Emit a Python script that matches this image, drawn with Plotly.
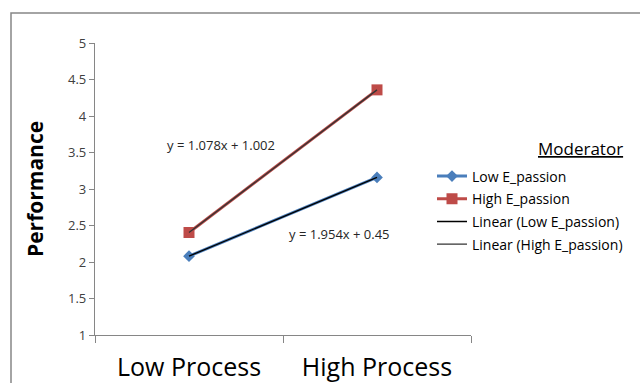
import plotly.graph_objects as go

categories = ["Low Process", "High Process"]
x_pos = [1, 2]
low_passion = [2.08, 3.158]
high_passion = [2.404, 4.358]
series_names = ["Low E_passion", "High E_passion",
                "Linear (Low E_passion)", "Linear (High E_passion)"]
equations = ["y = 1.078x + 1.002", "y = 1.954x + 0.45"]
eq_pos = [(1.17, 3.6), (1.8, 2.39)]
y_ticks = [1, 1.5, 2, 2.5, 3, 3.5, 4, 4.5, 5]
y_tick_text = ["1", "1.5", "2", "2.5", "3", "3.5", "4", "4.5", "5"]

FONT = "Open Sans"
GRID = "#868686"

fig = go.Figure()
fig.add_trace(go.Scatter(
    x=x_pos, y=low_passion, name=series_names[0], mode="lines+markers",
    line=dict(color="#4A7EBB", width=3),
    marker=dict(symbol="diamond", size=9, color="#4A7EBB"),
    legendgroup="g1"))
fig.add_trace(go.Scatter(
    x=x_pos, y=high_passion, name=series_names[1], mode="lines+markers",
    line=dict(color="#BE4B48", width=3),
    marker=dict(symbol="square", size=11, color="#BE4B48"),
    legendgroup="g2"))
fig.add_trace(go.Scatter(
    x=x_pos, y=low_passion, name=series_names[2], mode="lines",
    line=dict(color="#000000", width=1.3), legendgroup="g3"))
fig.add_trace(go.Scatter(
    x=x_pos, y=high_passion, name=series_names[3], mode="lines",
    line=dict(color="#333333", width=1.3), legendgroup="g4"))

fig.update_layout(
    width=640, height=383,
    margin=dict(l=95, r=169, t=43, b=48),
    paper_bgcolor="white", plot_bgcolor="white",
    font=dict(family=FONT, color="#404040"),
    showlegend=True,
    legend=dict(x=(432 - 95) / 376, xanchor="left", y=(335 - 160.5) / 292,
                yanchor="top", font=dict(size=14, color="#000000", family=FONT),
                tracegroupgap=1.5, bgcolor="rgba(0,0,0,0)", itemwidth=30),
    xaxis=dict(range=[0.5, 2.5], tickvals=x_pos, ticktext=categories,
               ticks="", showgrid=False, zeroline=False, automargin=False,
               showline=True, linecolor=GRID, linewidth=1.3,
               tickfont=dict(size=25, color="#000000", family=FONT),
               ticklabelstandoff=10,
               minor=dict(tickvals=[0.5, 1.5, 2.5], ticks="outside",
                          ticklen=7, tickcolor=GRID, tickwidth=1.3,
                          showgrid=False)),
    yaxis=dict(range=[1, 5], tickvals=y_ticks, ticktext=y_tick_text,
               ticks="outside", ticklen=5, tickcolor=GRID, tickwidth=1.3,
               showgrid=False, zeroline=False, automargin=False,
               showline=True, linecolor=GRID, linewidth=1.3,
               tickfont=dict(size=13, color="#404040", family=FONT)),
    shapes=[dict(type="rect", xref="paper", yref="paper",
                 x0=(11 - 95) / 376, x1=2.0, y0=-1.0, y1=(335 - 13) / 292,
                 line=dict(color=GRID, width=1.5), fillcolor="rgba(0,0,0,0)",
                 layer="below")],
)

annotations = [
    dict(text="Performance", textangle=-90, xref="paper", yref="paper",
         x=(35 - 95) / 376, y=0.5, xanchor="center", yanchor="middle",
         showarrow=False, font=dict(size=21, color="#000000", family=FONT,
                                    weight="bold")),
    dict(text="<u>Moderator</u>", xref="paper", yref="paper",
         x=(580 - 95) / 376, y=(335 - 148) / 292, xanchor="center",
         yanchor="middle", showarrow=False,
         font=dict(size=17, color="#000000", family=FONT)),
]
for txt, (ex, ey) in zip(equations, eq_pos):
    annotations.append(dict(text=txt, x=ex, y=ey, xref="x", yref="y",
                            showarrow=False, xanchor="center", yanchor="middle",
                            font=dict(size=13, color="#262626", family=FONT)))
fig.update_layout(annotations=annotations)

fig.write_html("out.html", config={"displayModeBar": False},
               post_script="document.body.style.margin='0';"
                           "document.body.style.overflow='hidden';")
